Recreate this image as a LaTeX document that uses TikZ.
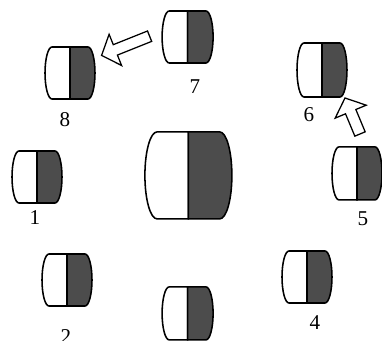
\documentclass[tikz,border=0pt]{standalone}
\usepackage{fontspec}
\setmainfont{Liberation Serif}
\usepackage{tikz}
\usetikzlibrary{calc}
\definecolor{pillshade}{gray}{0.3}
\tikzset{every picture/.style={line width=1.1pt}}
\tikzset{
  lightside/.style={draw=black, fill=white},
  darkside/.style={draw=black, fill=pillshade},
  hollowarrow/.style={draw=black, fill=white, line width=0.9pt, line join=miter},
  numlabel/.style={font=\fontsize{15}{18}\selectfont, inner sep=0pt}
}
% capsule: name, x, y, width, height
\newcommand{\capsule}[5]{%
  \coordinate (#1) at (#2,#3);
  \filldraw[lightside] ($(#1)+(0,#5/2)$) -- ++({-0.36*#4},0)
    arc[start angle=90, end angle=270, x radius={0.14*#4}, y radius={#5/2}]
    -- ++({0.36*#4},0) -- cycle;
  \filldraw[darkside] ($(#1)+(0,#5/2)$) -- ++({0.36*#4},0)
    arc[start angle=90, end angle=-90, x radius={0.14*#4}, y radius={#5/2}]
    -- ++({-0.36*#4},0) -- cycle;
}
% hollow block arrow from tail to tip
\newcommand{\blockarrow}[2]{%
  \coordinate (#1-neck) at ($(#2)!0.37cm!(#1)$);
  \draw[hollowarrow] ($(#1)!0.14cm!90:(#2)$) -- ($(#1-neck)!0.14cm!90:(#2)$)
    -- ($(#1-neck)!0.42cm!90:(#2)$) -- (#2)
    -- ($(#1-neck)!0.42cm!-90:(#2)$) -- ($(#1-neck)!0.14cm!-90:(#2)$)
    -- ($(#1)!0.14cm!-90:(#2)$) -- cycle;
}

\begin{document}
\begin{tikzpicture}
    \useasboundingbox (0,0) rectangle (9.55,8.525);
    \clip (0,0) rectangle (9.55,8.525);

    % centre piece
    \capsule{mid}{4.71}{4.14}{2.175}{2.175}

    % ring of small pieces
    \capsule{p1}{0.925}{4.10}{1.25}{1.30}
    \capsule{p2}{1.675}{1.525}{1.25}{1.30}
    \capsule{p3}{4.69}{0.69}{1.275}{1.325}
    \capsule{p4}{7.675}{1.60}{1.25}{1.30}
    \capsule{p5}{8.925}{4.19}{1.25}{1.325}
    \capsule{p6}{8.05}{6.775}{1.25}{1.35}
    \capsule{p7}{4.69}{7.60}{1.275}{1.30}
    \capsule{p8}{1.75}{6.70}{1.25}{1.30}

    \node[numlabel] (l1) at (0.875,3.075) {1};
    \node[numlabel] (l2) at (1.65,0.12) {2};
    \node[numlabel] (l4) at (7.875,0.45) {4};
    \node[numlabel] (l5) at (9.075,3.05) {5};
    \node[numlabel] (l6) at (7.725,5.65) {6};
    \node[numlabel] (l7) at (4.875,6.35) {7};
    \node[numlabel] (l8) at (1.625,5.525) {8};

    % moves
    \coordinate (m7) at (3.74,7.62);
    \coordinate (m8) at (2.54,7.14);
    \coordinate (m5) at (9.0,5.175);
    \coordinate (m6) at (8.625,6.075);
    \blockarrow{m7}{m8}
    \blockarrow{m5}{m6}
\end{tikzpicture}
\end{document}
